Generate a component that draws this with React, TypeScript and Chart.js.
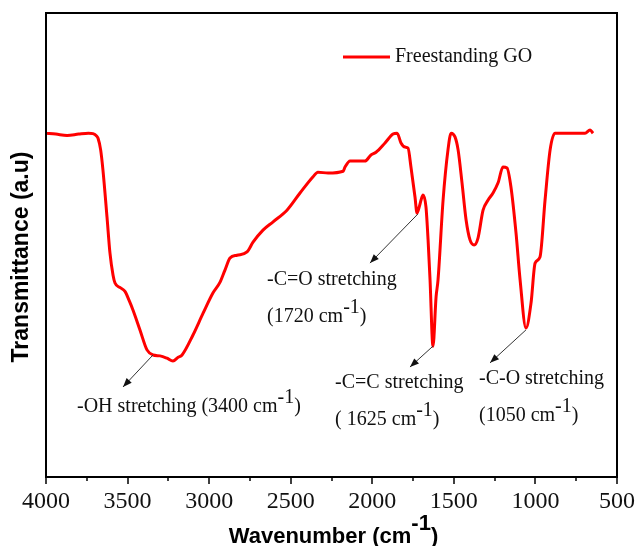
import React, { useEffect, useRef } from 'react';
import { Chart, registerables } from 'chart.js';

Chart.register(...registerables);

// ---- data ----
const WAVENUMBERS = [
  4000, 3940, 3871, 3800, 3740, 3712, 3690, 3681, 3665, 3651, 3626, 3608, 3589, 3577, 3545, 3516,
  3490, 3467, 3424, 3381, 3344, 3301, 3258, 3222, 3190, 3166, 3099, 3037, 2976, 2933, 2903, 2872,
  2829, 2768, 2731, 2670, 2608, 2523, 2443, 2363, 2333, 2271, 2179, 2167, 2136, 2045, 2008, 1977,
  1922, 1873, 1848, 1824, 1799, 1781, 1763, 1738, 1726, 1710, 1701, 1689, 1671, 1658, 1646, 1628,
  1609, 1597, 1566, 1536, 1517, 1493, 1474, 1450, 1425, 1401, 1376, 1352, 1321, 1290, 1260, 1229,
  1199, 1174, 1150, 1119, 1094, 1058, 1027, 1002, 972, 941, 910, 880, 782, 696, 665, 647,
];
const TRANSMITTANCE = [
  74.1, 73.9, 73.6, 73.9, 74.1, 74.0, 73.5, 73.0, 70.5, 66.2, 56.0, 48.3, 43.5, 41.8, 40.8, 40.0,
  38.0, 36.0, 31.7, 27.4, 26.3, 26.1, 25.6, 25.0, 25.8, 26.3, 30.6, 35.3, 39.7, 42.0, 44.6, 47.2,
  47.8, 48.5, 50.6, 53.2, 55.0, 57.5, 61.2, 64.7, 65.7, 65.5, 65.9, 66.8, 68.1, 68.1, 69.4, 70.0,
  72.0, 73.9, 74.1, 72.0, 71.1, 70.9, 66.8, 60.3, 56.9, 58.5, 59.7, 60.8, 58.2, 51.1, 42.5, 28.2,
  38.8, 42.5, 59.7, 70.5, 74.1, 73.3, 70.5, 63.4, 55.4, 51.1, 50.0, 51.5, 57.5, 59.7, 61.2, 63.4,
  66.8, 66.6, 62.5, 52.6, 42.5, 32.1, 37.5, 46.1, 47.4, 59.7, 70.5, 74.1, 74.1, 74.1, 74.8, 74.1,
];
const X_TICKS = [4000, 3500, 3000, 2500, 2000, 1500, 1000, 500];
const X_MINOR_TICKS = [3750, 3250, 2750, 2250, 1750, 1250, 750];
const SERIES_LABEL = 'Freestanding GO';
const X_TITLE = 'Wavenumber (cm';
const X_TITLE_SUP = '-1';
const Y_TITLE = 'Transmittance (a.u)';

// annotation lines: [text, superscript?]
const OH_LINES = [[['-OH stretching (3400 cm', false], ['-1', true], [')', false]]];
const CO_DOUBLE_LINES = [[['-C=O stretching', false]], [['(1720 cm', false], ['-1', true], [')', false]]];
const CC_LINES = [[['-C=C stretching', false]], [['( 1625 cm', false], ['-1', true], [')', false]]];
const CO_SINGLE_LINES = [[['-C-O stretching', false]], [['(1050 cm', false], ['-1', true], [')', false]]];

// annotation anchors in data units (wavenumber, transmittance)
const ANNOTATIONS = [
  { from: [3344, 26.3], to: [3528, 19.4], text: [3810, 15.1], gap: 8.0, lines: OH_LINES },
  { from: [1720, 56.7], to: [2014, 46.1], text: [2645, 42.5], gap: 8.0, lines: CO_DOUBLE_LINES },
  { from: [1628, 28.2], to: [1769, 23.7], text: [2228, 20.3], gap: 8.0, lines: CC_LINES },
  { from: [1058, 31.7], to: [1278, 24.6], text: [1346, 21.1], gap: 7.8, lines: CO_SINGLE_LINES },
];

const SERIF = '"Liberation Serif", "Times New Roman", serif';
const SANS = '"Liberation Sans", Arial, sans-serif';

function drawSegments(ctx: CanvasRenderingContext2D, segs: any[], x: number, y: number, size: number) {
  let cx = x;
  ctx.font = `${size}px ${SERIF}`;
  ctx.textAlign = 'left';
  ctx.textBaseline = 'middle';
  for (const [t, sup] of segs) {
    ctx.fillText(t, cx, sup ? y - 9 : y);
    cx += ctx.measureText(t).width;
  }
}

function drawArrow(ctx: CanvasRenderingContext2D, x1: number, y1: number, x2: number, y2: number) {
  ctx.save();
  ctx.strokeStyle = '#333';
  ctx.fillStyle = '#111';
  ctx.lineWidth = 1;
  ctx.beginPath();
  ctx.moveTo(x1, y1);
  ctx.lineTo(x2, y2);
  ctx.stroke();
  const ang = Math.atan2(y2 - y1, x2 - x1);
  const len = 9;
  const w = 3.5;
  const bx = x2 - len * Math.cos(ang);
  const by = y2 - len * Math.sin(ang);
  ctx.beginPath();
  ctx.moveTo(x2, y2);
  ctx.lineTo(bx + w * Math.sin(ang), by - w * Math.cos(ang));
  ctx.lineTo(bx - w * Math.sin(ang), by + w * Math.cos(ang));
  ctx.closePath();
  ctx.fill();
  ctx.restore();
}

const decorPlugin = {
  id: 'decor',
  afterDraw(chart: any) {
    const ctx: CanvasRenderingContext2D = chart.ctx;
    const { left, right, top, bottom } = chart.chartArea;
    const xs = chart.scales.x;
    const ys = chart.scales.y;
    ctx.save();

    // frame
    ctx.strokeStyle = '#000';
    ctx.lineWidth = 2;
    ctx.strokeRect(left, top, right - left, bottom - top);

    // ticks
    ctx.lineWidth = 1.5;
    ctx.beginPath();
    for (const v of X_TICKS) {
      const px = Math.round(xs.getPixelForValue(v));
      ctx.moveTo(px, bottom);
      ctx.lineTo(px, bottom + 7);
    }
    for (const v of X_MINOR_TICKS) {
      const px = Math.round(xs.getPixelForValue(v));
      ctx.moveTo(px, bottom);
      ctx.lineTo(px, bottom + 4);
    }
    ctx.stroke();

    // tick labels
    ctx.fillStyle = '#111';
    ctx.font = `24px ${SERIF}`;
    ctx.textAlign = 'center';
    ctx.textBaseline = 'middle';
    for (const v of X_TICKS) {
      ctx.fillText(String(v), xs.getPixelForValue(v), bottom + 25);
    }

    // x title with superscript
    ctx.fillStyle = '#000';
    ctx.font = `bold 22px ${SANS}`;
    const wMain = ctx.measureText(X_TITLE).width;
    const wSup = ctx.measureText(X_TITLE_SUP).width;
    const wEnd = ctx.measureText(')').width;
    const total = wMain + wSup + wEnd;
    const cx = (left + right) / 2 - total / 2 + 2;
    const ty = 537;
    ctx.textAlign = 'left';
    ctx.fillText(X_TITLE, cx, ty);
    ctx.fillText(X_TITLE_SUP, cx + wMain, ty - 13);
    ctx.fillText(')', cx + wMain + wSup, ty);

    // y title
    ctx.save();
    ctx.translate(22, 257);
    ctx.rotate(-Math.PI / 2);
    ctx.font = `bold 23px ${SANS}`;
    ctx.textAlign = 'center';
    ctx.textBaseline = 'middle';
    ctx.fillText(Y_TITLE, 0, 0);
    ctx.restore();

    // legend
    ctx.strokeStyle = '#ff0000';
    ctx.lineWidth = 3;
    ctx.beginPath();
    ctx.moveTo(343, 57);
    ctx.lineTo(390, 57);
    ctx.stroke();
    ctx.fillStyle = '#111';
    ctx.font = `20px ${SERIF}`;
    ctx.textAlign = 'left';
    ctx.textBaseline = 'middle';
    ctx.fillText(SERIES_LABEL, 395, 57);

    // annotations
    for (const a of ANNOTATIONS) {
      const x1 = xs.getPixelForValue(a.from[0]);
      const y1 = ys.getPixelForValue(a.from[1]);
      const x2 = xs.getPixelForValue(a.to[0]);
      const y2 = ys.getPixelForValue(a.to[1]);
      drawArrow(ctx, x1, y1, x2, y2);
      const tx = xs.getPixelForValue(a.text[0]);
      const tyy = ys.getPixelForValue(a.text[1]);
      ctx.fillStyle = '#111';
      a.lines.forEach((segs: any[], i: number) => {
        drawSegments(ctx, segs, tx, tyy + i * 37, 20);
      });
    }
    ctx.restore();
  },
};

export default function App() {
  const ref = useRef<HTMLCanvasElement | null>(null);
  useEffect(() => {
    if (!ref.current) return;
    const chart = new Chart(ref.current, {
      type: 'line',
      data: {
        datasets: [
          {
            label: SERIES_LABEL,
            data: WAVENUMBERS.map((w, i) => ({ x: w, y: TRANSMITTANCE[i] })),
            borderColor: '#ff0000',
            borderWidth: 3,
            pointRadius: 0,
            cubicInterpolationMode: 'monotone',
            fill: false,
          },
        ],
      },
      options: {
        animation: false,
        responsive: false,
        devicePixelRatio: 1,
        layout: { padding: { left: 46, right: 21, top: 13, bottom: 69 } },
        plugins: { legend: { display: false }, tooltip: { enabled: false } },
        scales: {
          x: { type: 'linear', reverse: true, min: 500, max: 4000, display: false },
          y: { type: 'linear', min: 0, max: 100, display: false },
        },
      },
      plugins: [decorPlugin],
    });
    return () => chart.destroy();
  }, []);
  return (
    <div style={{ position: 'fixed', left: 0, top: 0, width: 638, height: 546, background: '#fff' }}>
      <canvas ref={ref} width={638} height={546} />
    </div>
  );
}
